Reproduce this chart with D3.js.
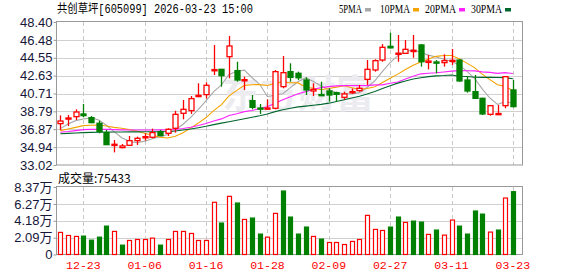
<!DOCTYPE html>
<html>
<head>
<meta charset="utf-8">
<script src="https://cdn.jsdelivr.net/npm/d3@7"></script>
<style>
    body { margin: 0; background: #fff; }
    svg { display: block; }
    text { font-family: "Liberation Sans", Arial, sans-serif; }
</style>
</head>
<body>
<div id="chart"></div>
<script>
// trading days shown (Dec 18 .. Mar 23)
const dates = ["12-18","12-19","12-22","12-23","12-24","12-25","12-26","12-29","12-30","12-31",
    "01-05","01-06","01-07","01-08","01-09","01-12","01-13","01-14","01-15","01-16",
    "01-19","01-20","01-21","01-22","01-23","01-26","01-27","01-28","01-29","01-30",
    "02-02","02-03","02-04","02-05","02-06","02-09","02-10","02-11","02-12","02-13",
    "02-24","02-25","02-26","02-27","03-02","03-03","03-04","03-05","03-06","03-09",
    "03-10","03-11","03-12","03-13","03-16","03-17","03-18","03-19","03-20","03-23"];

const openP = [37.47,37.98,38.22,38.51,38.11,37.51,36.50,35.15,34.89,35.14,
    35.64,36.00,36.00,36.61,36.43,36.97,38.58,38.87,40.41,40.59,
    43.17,43.31,44.67,43.17,42.12,39.94,39.15,39.08,39.12,41.45,
    43.06,42.88,42.16,40.98,40.60,40.98,40.80,40.30,40.80,41.02,
    42.23,43.24,44.31,45.78,44.95,45.03,45.25,45.93,44.05,44.10,
    44.03,44.15,44.31,42.16,40.91,40.19,38.47,38.50,39.40,41.09];
const highP = [38.36,38.40,39.01,39.58,38.29,37.79,36.79,35.71,35.28,36.14,
    36.07,36.43,36.93,36.79,36.97,38.85,40.01,40.44,41.81,41.91,
    45.93,43.35,46.89,44.13,42.52,40.55,39.58,40.08,43.24,44.74,
    43.96,43.06,42.45,41.81,41.98,41.27,40.91,40.91,41.25,41.63,
    44.31,44.39,46.03,47.25,47.00,46.46,47.00,46.03,44.85,44.31,
    44.92,45.50,44.39,42.59,42.70,40.26,39.48,39.48,42.59,42.16];
const lowP = [36.79,37.22,37.86,38.15,37.51,36.43,35.18,34.38,34.82,35.07,
    35.17,35.64,35.89,36.14,36.14,36.50,37.93,38.51,40.30,40.16,
    42.70,41.45,42.34,41.98,41.09,39.01,38.51,39.01,39.01,41.27,
    41.98,42.16,40.55,40.44,40.44,39.83,39.83,40.08,40.66,40.91,
    41.63,43.06,44.13,45.55,44.13,44.96,44.55,43.60,43.31,42.88,
    43.60,43.78,41.98,40.80,40.12,38.40,38.33,38.40,39.12,39.22];
const closeP = [37.75,38.08,38.72,38.33,37.58,36.64,35.21,35.25,35.07,35.64,
    35.89,36.07,36.50,36.18,36.86,38.47,39.01,40.16,40.51,41.59,
    43.28,42.63,45.82,42.16,42.20,39.22,39.08,39.15,43.06,42.95,
    42.45,42.40,41.09,41.15,40.52,40.55,40.62,40.66,40.92,41.27,
    43.31,44.24,45.68,45.62,45.05,45.46,45.35,44.13,44.20,44.02,
    44.24,44.28,42.06,40.98,40.19,38.51,39.40,38.56,42.52,39.30];

// volume, in 万
const volume = [2.74,2.36,2.24,2.28,1.78,2.15,3.52,2.86,1.16,1.74,
    1.86,1.86,2.03,1.16,1.86,2.86,2.86,2.61,1.74,1.74,
    6.47,3.90,7.21,6.38,4.35,4.52,2.53,2.15,5.10,7.87,
    4.64,2.53,3.40,2.24,1.91,1.49,1.49,1.24,1.62,1.86,
    4.85,3.11,2.98,3.40,4.64,3.98,4.14,4.02,2.49,3.03,
    2.40,4.27,3.52,2.53,5.39,5.01,2.78,3.03,7.00,7.79];

// MA values read off the chart before each window is full (earlier days are not shown)
const ma5Head = [36.93,37.43,37.79,37.97];
const ma10Head = [36.72,36.90,37.07,37.25,37.29,37.33,37.22,37.07,36.97];
const ma20Head = [36.55,36.62,36.72,36.82,36.85,36.86,36.85,36.82,36.80,36.79,
    36.79,36.79,36.79,36.80,36.78,36.84,36.95,37.08,37.26];
const ma30Head = [36.38,36.42,36.46,36.50,36.53,36.55,36.56,36.57,36.57,36.58,
    36.58,36.59,36.60,36.60,36.62,36.68,36.78,36.89,37.03,37.18,
    37.36,37.52,37.68,37.84,38.00,38.16,38.32,38.50,38.76];

const priceTicks = [48.40,46.48,44.55,42.63,40.71,38.79,36.87,34.94,33.02];
const volTicks = [0,2.09,4.18,6.27,8.37];
const dateTicks = ["12-23","01-06","01-16","01-28","02-09","02-27","03-11","03-23"];

const maSeries = [
    {name: "5PMA", n: 5, head: ma5Head, color: "#a8a8a8"},
    {name: "10PMA", n: 10, head: ma10Head, color: "#f5a300"},
    {name: "20PMA", n: 20, head: ma20Head, color: "#ff22ff"},
    {name: "30PMA", n: 30, head: ma30Head, color: "#00662e"}
];

const RED = "#ff0000", GREEN = "#008000";

function movingAvg(n, head) {
    return closeP.map((c, i) => {
        if (i < head.length) return head[i];
        return d3.mean(closeP.slice(i - n + 1, i + 1));
    });
}

const W = 578, H = 276;
const left = 56.5, right = 522.5;
const svg = d3.select("#chart").append("svg")
    .attr("width", W)
    .attr("height", H);

const idx = d3.range(dates.length);
const x = d3.scaleBand()
    .domain(idx)
    .range([56.5, 56.5 + 7.67 * dates.length])
    .paddingInner(0);
const cx = i => x(i) + x.bandwidth() / 2;

const y = d3.scaleLinear().domain([33.02, 48.40]).range([165, 22]);
const yv = d3.scaleLinear().domain([0, 8.37]).range([254.5, 187]);

// title + legend
svg.append("text")
    .attr("x", 57).attr("y", 13)
    .attr("font-size", 12.5)
    .attr("fill", "#000")
    .style("font-family", "'Liberation Mono','Noto Sans CJK SC',monospace")
    .attr("textLength", 196)
    .attr("lengthAdjust", "spacingAndGlyphs")
    .text("共创草坪[605099] 2026-03-23 15:00");

const legendPos = [339, 380, 425, 471];
const legendLen = [23, 30, 31, 31];
maSeries.forEach((s, k) => {
    svg.append("text")
        .attr("x", legendPos[k]).attr("y", 13)
        .attr("font-size", 12.5)
        .style("font-family", "'Liberation Serif',serif")
        .attr("textLength", legendLen[k])
        .attr("lengthAdjust", "spacingAndGlyphs")
        .attr("fill", "#000")
        .text(s.name);
    svg.append("rect")
        .attr("x", legendPos[k] + legendLen[k] + 3).attr("y", 8)
        .attr("width", 6).attr("height", 3.5)
        .attr("fill", s.color);
});

// grid
const grid = svg.append("g");
grid.selectAll(".hgrid")
    .data(priceTicks.slice(1, -1))
    .enter().append("line")
    .attr("x1", left).attr("x2", right)
    .attr("y1", d => Math.round(y(d)) + 0.5)
    .attr("y2", d => Math.round(y(d)) + 0.5)
    .attr("stroke", "#d0d0d0");
grid.selectAll(".vhgrid")
    .data(volTicks.slice(1, -1))
    .enter().append("line")
    .attr("x1", left).attr("x2", right)
    .attr("y1", d => Math.round(yv(d)) + 0.5)
    .attr("y2", d => Math.round(yv(d)) + 0.5)
    .attr("stroke", "#d0d0d0");
dateTicks.forEach(dt => {
    const xx = Math.round(cx(dates.indexOf(dt))) + 0.5;
    [[22, 165], [187, 254]].forEach(r => {
        grid.append("line")
            .attr("x1", xx).attr("x2", xx)
            .attr("y1", r[0]).attr("y2", r[1])
            .attr("stroke", "#c8c8c8")
            .attr("stroke-dasharray", "4,3");
    });
});

// watermark
svg.append("text")
    .attr("x", 222).attr("y", 107)
    .attr("font-size", 38)
    .attr("font-weight", "bold")
    .style("font-family", "'Noto Sans CJK SC',sans-serif")
    .attr("fill", "#ececf0")
    .text("东方财富");

// frames
svg.append("rect")
    .attr("x", left).attr("y", 21.5)
    .attr("width", right - left).attr("height", 143.5)
    .attr("fill", "none").attr("stroke", "#999");
svg.append("rect")
    .attr("x", left).attr("y", 186.5)
    .attr("width", right - left).attr("height", 68)
    .attr("fill", "none").attr("stroke", "#999");

// y axis labels
const yAxis = d3.axisLeft(y)
    .tickValues(priceTicks)
    .tickFormat(d3.format(".2f"))
    .tickSize(3)
    .tickPadding(1);
svg.append("g")
    .attr("transform", `translate(${left},0)`)
    .call(yAxis)
    .call(g => g.select(".domain").remove())
    .call(g => g.selectAll("line").attr("stroke", "#999"))
    .call(g => g.selectAll("text")
        .attr("fill", "#16163a")
        .attr("font-size", 13)
        .style("font-family", "'Liberation Sans',Arial,sans-serif"));

const vAxis = d3.axisLeft(yv)
    .tickValues(volTicks)
    .tickFormat(d => d === 0 ? "0" : d3.format(".2f")(d) + "万")
    .tickSize(3)
    .tickPadding(1);
svg.append("g")
    .attr("transform", `translate(${left},0)`)
    .call(vAxis)
    .call(g => g.select(".domain").remove())
    .call(g => g.selectAll("line").attr("stroke", "#999"))
    .call(g => g.selectAll("text")
        .attr("fill", "#16163a")
        .attr("font-size", 13)
        .style("font-family", "'Liberation Sans','Noto Sans CJK SC',sans-serif"));

// x axis labels
const xAxis = d3.axisBottom(x)
    .tickValues(dateTicks.map(d => dates.indexOf(d)))
    .tickFormat(i => dates[i])
    .tickSize(0)
    .tickPadding(6);
svg.append("g")
    .attr("transform", "translate(0,255)")
    .call(xAxis)
    .call(g => g.select(".domain").remove())
    .call(g => g.selectAll("text")
        .attr("fill", RED)
        .attr("font-size", 11.5)
        .style("font-family", "'Liberation Mono',monospace"));

// volume label
svg.append("text")
    .attr("x", 58).attr("y", 183)
    .attr("font-size", 12)
    .style("font-family", "'Noto Sans CJK SC',sans-serif")
    .attr("fill", "#000")
    .text("成交量:75433");

// MA lines
const line = d3.line()
    .x((d, i) => cx(i))
    .y(d => y(d));
maSeries.forEach(s => {
    svg.append("path")
        .datum(movingAvg(s.n, s.head))
        .attr("d", line)
        .attr("fill", "none")
        .attr("stroke", s.color)
        .attr("stroke-width", 1.1);
});

// candles
const candles = svg.append("g").selectAll(".candle")
    .data(idx)
    .enter().append("g")
    .attr("class", "candle");
candles.append("line")
    .attr("x1", i => Math.round(cx(i)) + 0.5)
    .attr("x2", i => Math.round(cx(i)) + 0.5)
    .attr("y1", i => y(highP[i]))
    .attr("y2", i => y(lowP[i]))
    .attr("stroke", i => closeP[i] >= openP[i] ? RED : GREEN)
    .attr("stroke-width", 1.3);
candles.append("rect")
    .attr("x", i => Math.round(cx(i)) - 2)
    .attr("y", i => y(Math.max(openP[i], closeP[i])))
    .attr("width", 5)
    .attr("height", i => Math.max(1.2, Math.abs(y(openP[i]) - y(closeP[i]))))
    .attr("fill", i => closeP[i] >= openP[i] ? "#fff" : GREEN)
    .attr("stroke", i => closeP[i] >= openP[i] ? RED : GREEN)
    .attr("stroke-width", 1.3);

// volume bars: colour by change from previous close
const volUp = i => i === 0 ? closeP[0] >= openP[0] : closeP[i] >= closeP[i - 1];
svg.append("g").selectAll(".vol")
    .data(idx)
    .enter().append("rect")
    .attr("class", "vol")
    .attr("x", i => Math.round(cx(i)) - 1.5)
    .attr("y", i => yv(volume[i]))
    .attr("width", 4)
    .attr("height", i => yv(0) - yv(volume[i]))
    .attr("fill", i => volUp(i) ? "#fff" : GREEN)
    .attr("stroke", i => volUp(i) ? RED : GREEN)
    .attr("stroke-width", 1.2);
</script>
</body>
</html>
